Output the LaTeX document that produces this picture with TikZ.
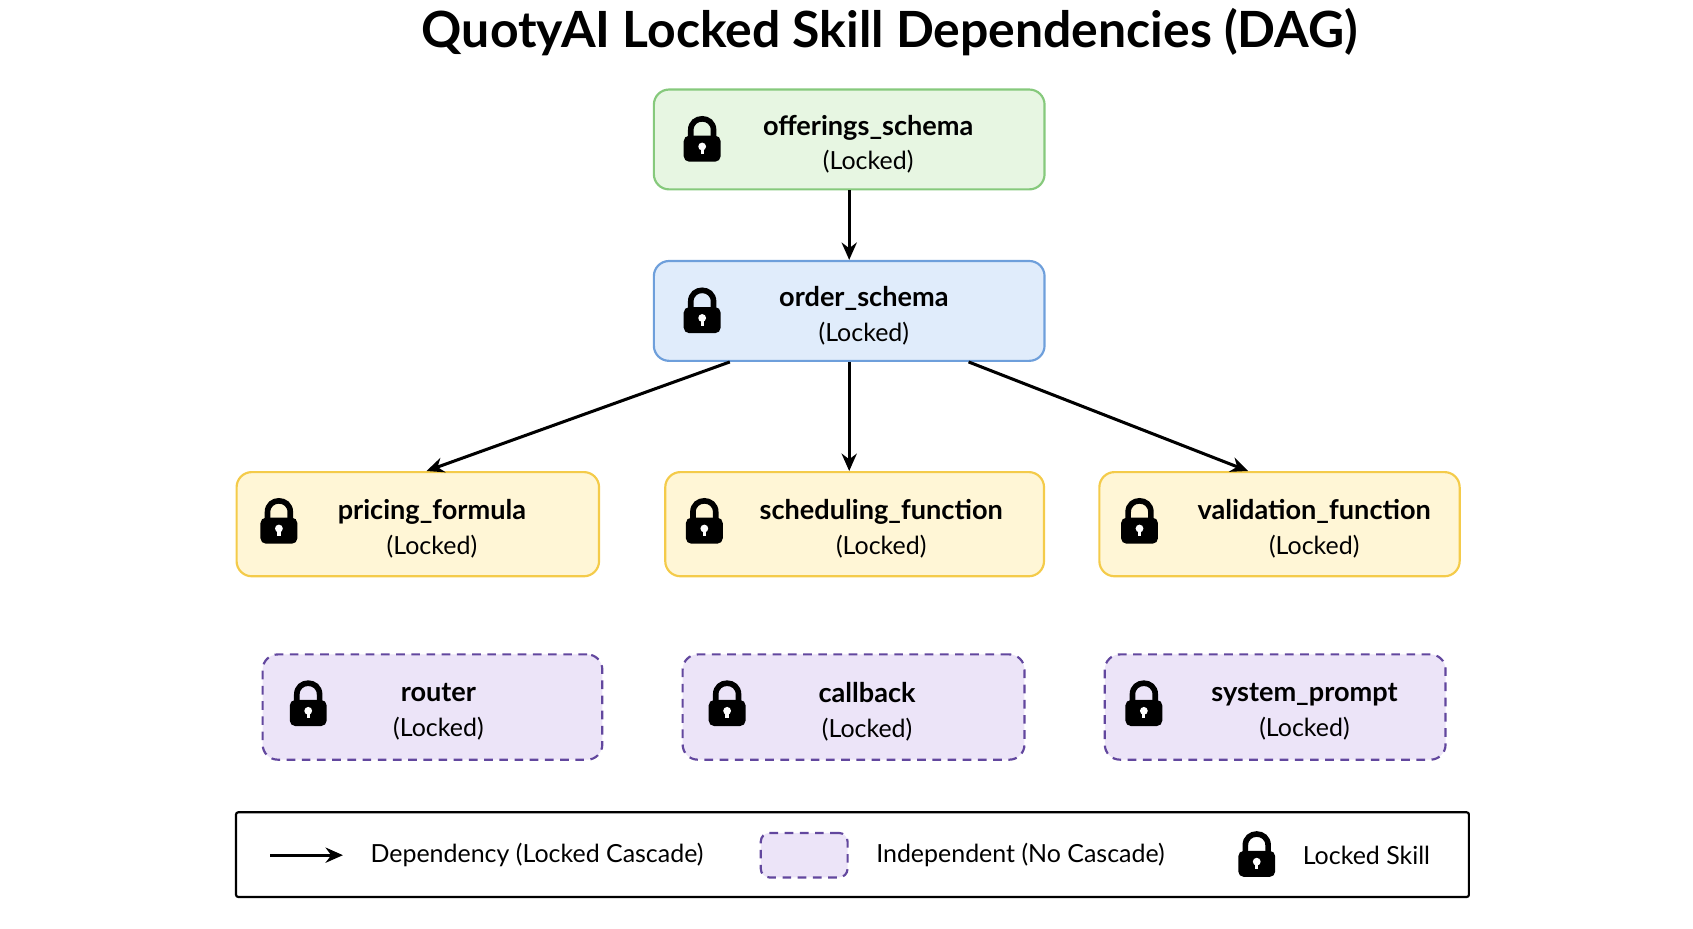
\documentclass[tikz,border=0pt]{standalone}
\usepackage{fontspec}
\setmainfont{Lato}
\usetikzlibrary{positioning,arrows.meta}
\definecolor{grnfill}{HTML}{E7F6E2}
\definecolor{grnline}{HTML}{86C97C}
\definecolor{bluefill}{HTML}{E0ECFB}
\definecolor{blueline}{HTML}{6E9FDB}
\definecolor{yelfill}{HTML}{FFF6D6}
\definecolor{yelline}{HTML}{F4CB4A}
\definecolor{purfill}{HTML}{ECE4F8}
\definecolor{purline}{HTML}{62479E}
\tikzset{
  every picture/.style={line width=0.75pt},
  skill/.style={draw, rounded corners=7pt, line width=1pt, minimum height=46pt, inner sep=0pt},
  topskill/.style={skill, minimum width=180pt},
  green/.style={topskill, fill=grnfill, draw=grnline},
  blue/.style={topskill, fill=bluefill, draw=blueline},
  yellow/.style={skill, fill=yelfill, draw=yelline, minimum height=48pt},
  indep/.style={skill, fill=purfill, draw=purline, dashed, dash pattern=on 4pt off 3pt, minimum height=48.5pt},
  label/.style={align=center, font=\fontsize{12.5}{17}\selectfont},
  dep/.style={-{Stealth[length=8pt,width=7pt]}, line width=1.4pt},
  lock/.pic={
    \draw[line width=2.6pt] (-10.5,-2) -- (-10.5,8) .. controls (-10.5,22) and (10.5,22) .. (10.5,8) -- (10.5,-2);
    \fill[rounded corners=2.5pt] (-17,-21) rectangle (17,3);
    \fill[white] (0,-7) circle (3.6);
    \fill[white] (-1.5,-7) rectangle (1.5,-14);
  }
}
\newcommand{\skilltext}[1]{{\bfseries #1}\\[-1pt]{\fontsize{11.5}{14}\selectfont(Locked)}}
\begin{document}
\begin{tikzpicture}[x=0.5pt,y=0.5pt,yscale=-1]
  \useasboundingbox (0,0) rectangle (1560,856);

  \node[font=\fontsize{23}{27}\selectfont\bfseries] (title) at (820,30) {QuotyAI Locked Skill Dependencies (DAG)};

  % skill boxes
  \node[green] (offer) at (782.5,128.5) {};
  \node[blue] (order) at (782.5,286.5) {};
  \node[yellow, minimum width=167pt] (pricing) at (385,483) {};
  \node[yellow, minimum width=174.5pt] (sched) at (787.5,483) {};
  \node[yellow, minimum width=166pt] (valid) at (1179,483) {};
  \node[indep, minimum width=156.5pt] (router) at (398.5,651.5) {};
  \node[indep, minimum width=157.5pt] (callb) at (786.5,651.5) {};
  \node[indep, minimum width=157pt] (sysp) at (1175,651.5) {};

  % labels
  \node[label] (offertxt) at (800,133) {\skilltext{offerings\_schema}};
  \node[label] (ordertxt) at (796,291) {\skilltext{order\_schema}};
  \node[label] (pricetxt) at (398,487) {\skilltext{pricing\_formula}};
  \node[label] (schedtxt) at (812,487) {\skilltext{scheduling\_function}};
  \node[label] (validtxt) at (1211,487) {\skilltext{validation\_function}};
  \node[label] (routtxt) at (404,656) {\skilltext{router}};
  \node[label] (calltxt) at (799,656) {\skilltext{callback}};
  \node[label] (systxt) at (1202,656) {\skilltext{system\_prompt}};

  % locks
  \foreach \x/\y in {647/128, 647/286, 257/480, 649/480, 1050/480, 284/648, 670/648, 1054/648, 1158/787}
    \pic at (\x,\y) {lock};

  % dependencies
  \draw[dep] (offer) -- (order);
  \draw[dep] ([xshift=-55pt]order.south) -- ([xshift=4pt]pricing.north);
  \draw[dep] (order.south) -- (order.south |- sched.north);
  \draw[dep] ([xshift=55pt]order.south) -- ([xshift=-14.5pt]valid.north);

  % legend
  \node[draw, line width=1pt, minimum width=568pt, minimum height=39pt, rounded corners=1pt] (legend) at (785.5,787.5) {};
  \coordinate (la) at (249,788);
  \coordinate (lb) at (316,788);
  \draw[dep] (la) -- (lb);
  \node[anchor=west, font=\fontsize{11.5}{14}\selectfont] (deptxt) at (334,788) {Dependency (Locked Cascade)};
  \node[indep, minimum width=40pt, minimum height=20.5pt, rounded corners=4pt] (indbox) at (741,788) {};
  \node[anchor=west, font=\fontsize{11.5}{14}\selectfont] (indtxt) at (800,788) {Independent (No Cascade)};
  \node[anchor=west, font=\fontsize{11.5}{14}\selectfont] (locktxt) at (1193,788) {Locked Skill};
\end{tikzpicture}
\end{document}
